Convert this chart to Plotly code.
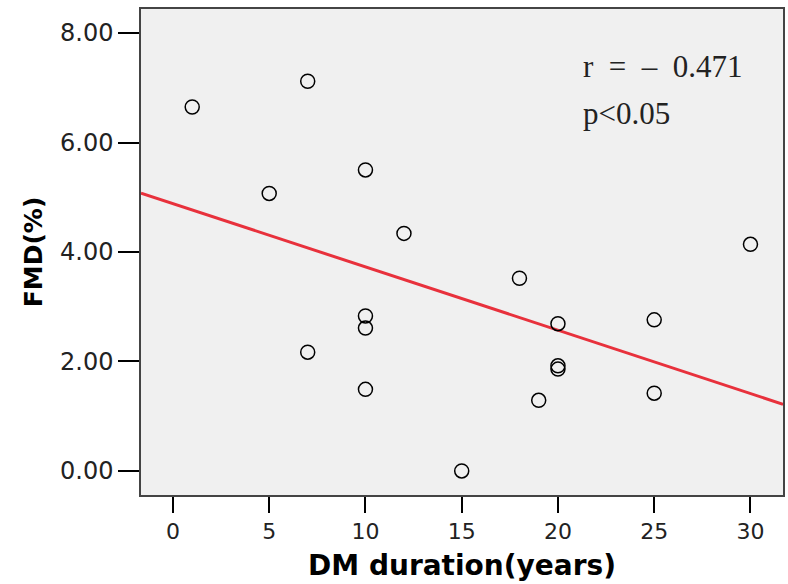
import numpy as np
import plotly.graph_objects as go

# Data
dm_duration = [1, 7, 5, 10, 12, 18, 30, 10, 10, 7, 10, 20, 20, 20, 19, 15, 25, 25]
fmd_percent = [6.65, 7.12, 5.07, 5.50, 4.34, 3.52, 4.14, 2.83, 2.61, 2.17, 1.49, 2.69, 1.92, 1.86, 1.29, 0.00, 2.76, 1.42]

x_ticks = [0, 5, 10, 15, 20, 25, 30]
y_ticks = [0, 2, 4, 6, 8]
y_tick_labels = ["0.00", "2.00", "4.00", "6.00", "8.00"]

x_range = [-1.66, 31.69]
y_range = [-0.44, 8.44]

slope, intercept = np.polyfit(dm_duration, fmd_percent, 1)
fit_x = np.array(x_range)
fit_y = slope * fit_x + intercept

fig = go.Figure()
fig.add_trace(go.Scatter(
    x=fit_x, y=fit_y, mode="lines",
    line=dict(color="#e8313c", width=3),
    showlegend=False, hoverinfo="skip",
))
fig.add_trace(go.Scatter(
    x=dm_duration, y=fmd_percent, mode="markers",
    marker=dict(symbol="circle-open", size=14, color="black", line=dict(width=1.5, color="black")),
    showlegend=False,
))

fig.add_annotation(
    x=0.685, y=0.881, xref="paper", yref="paper", xanchor="left", yanchor="middle",
    text="r\u2002=\u2002\u2013\u20020.471", showarrow=False,
    font=dict(family="Liberation Serif", size=31, color="#222222"),
)
fig.add_annotation(
    x=0.685, y=0.786, xref="paper", yref="paper", xanchor="left", yanchor="middle",
    text="p&lt;0.05", showarrow=False,
    font=dict(family="Liberation Serif", size=31, color="#222222"),
)

fig.update_layout(
    width=788, height=584,
    margin=dict(l=141, r=3, t=9, b=89),
    paper_bgcolor="white",
    plot_bgcolor="#f0f0f0",
    xaxis=dict(
        range=x_range, tickvals=x_ticks, ticktext=[str(v) for v in x_ticks],
        showgrid=False, zeroline=False,
        showline=True, linecolor="#444444", linewidth=1.5, mirror=True,
        ticks="outside", ticklen=16, tickwidth=2, tickcolor="black",
        tickfont=dict(family="DejaVu Sans", size=22, color="#222222"),
        title=dict(text="<b>DM duration(years)</b>", standoff=12,
                   font=dict(family="DejaVu Sans", size=28, color="black")),
    ),
    yaxis=dict(
        range=y_range, tickvals=y_ticks, ticktext=y_tick_labels,
        showgrid=False, zeroline=False,
        showline=True, linecolor="#444444", linewidth=1.5, mirror=True,
        ticks="outside", ticklen=21, tickwidth=2, tickcolor="black",
        tickfont=dict(family="DejaVu Sans", size=24, color="#222222"),
        title=dict(text="<b>FMD(%)</b>", standoff=10,
                   font=dict(family="DejaVu Sans", size=25, color="black")),
    ),
)

fig.write_html("out.html")
